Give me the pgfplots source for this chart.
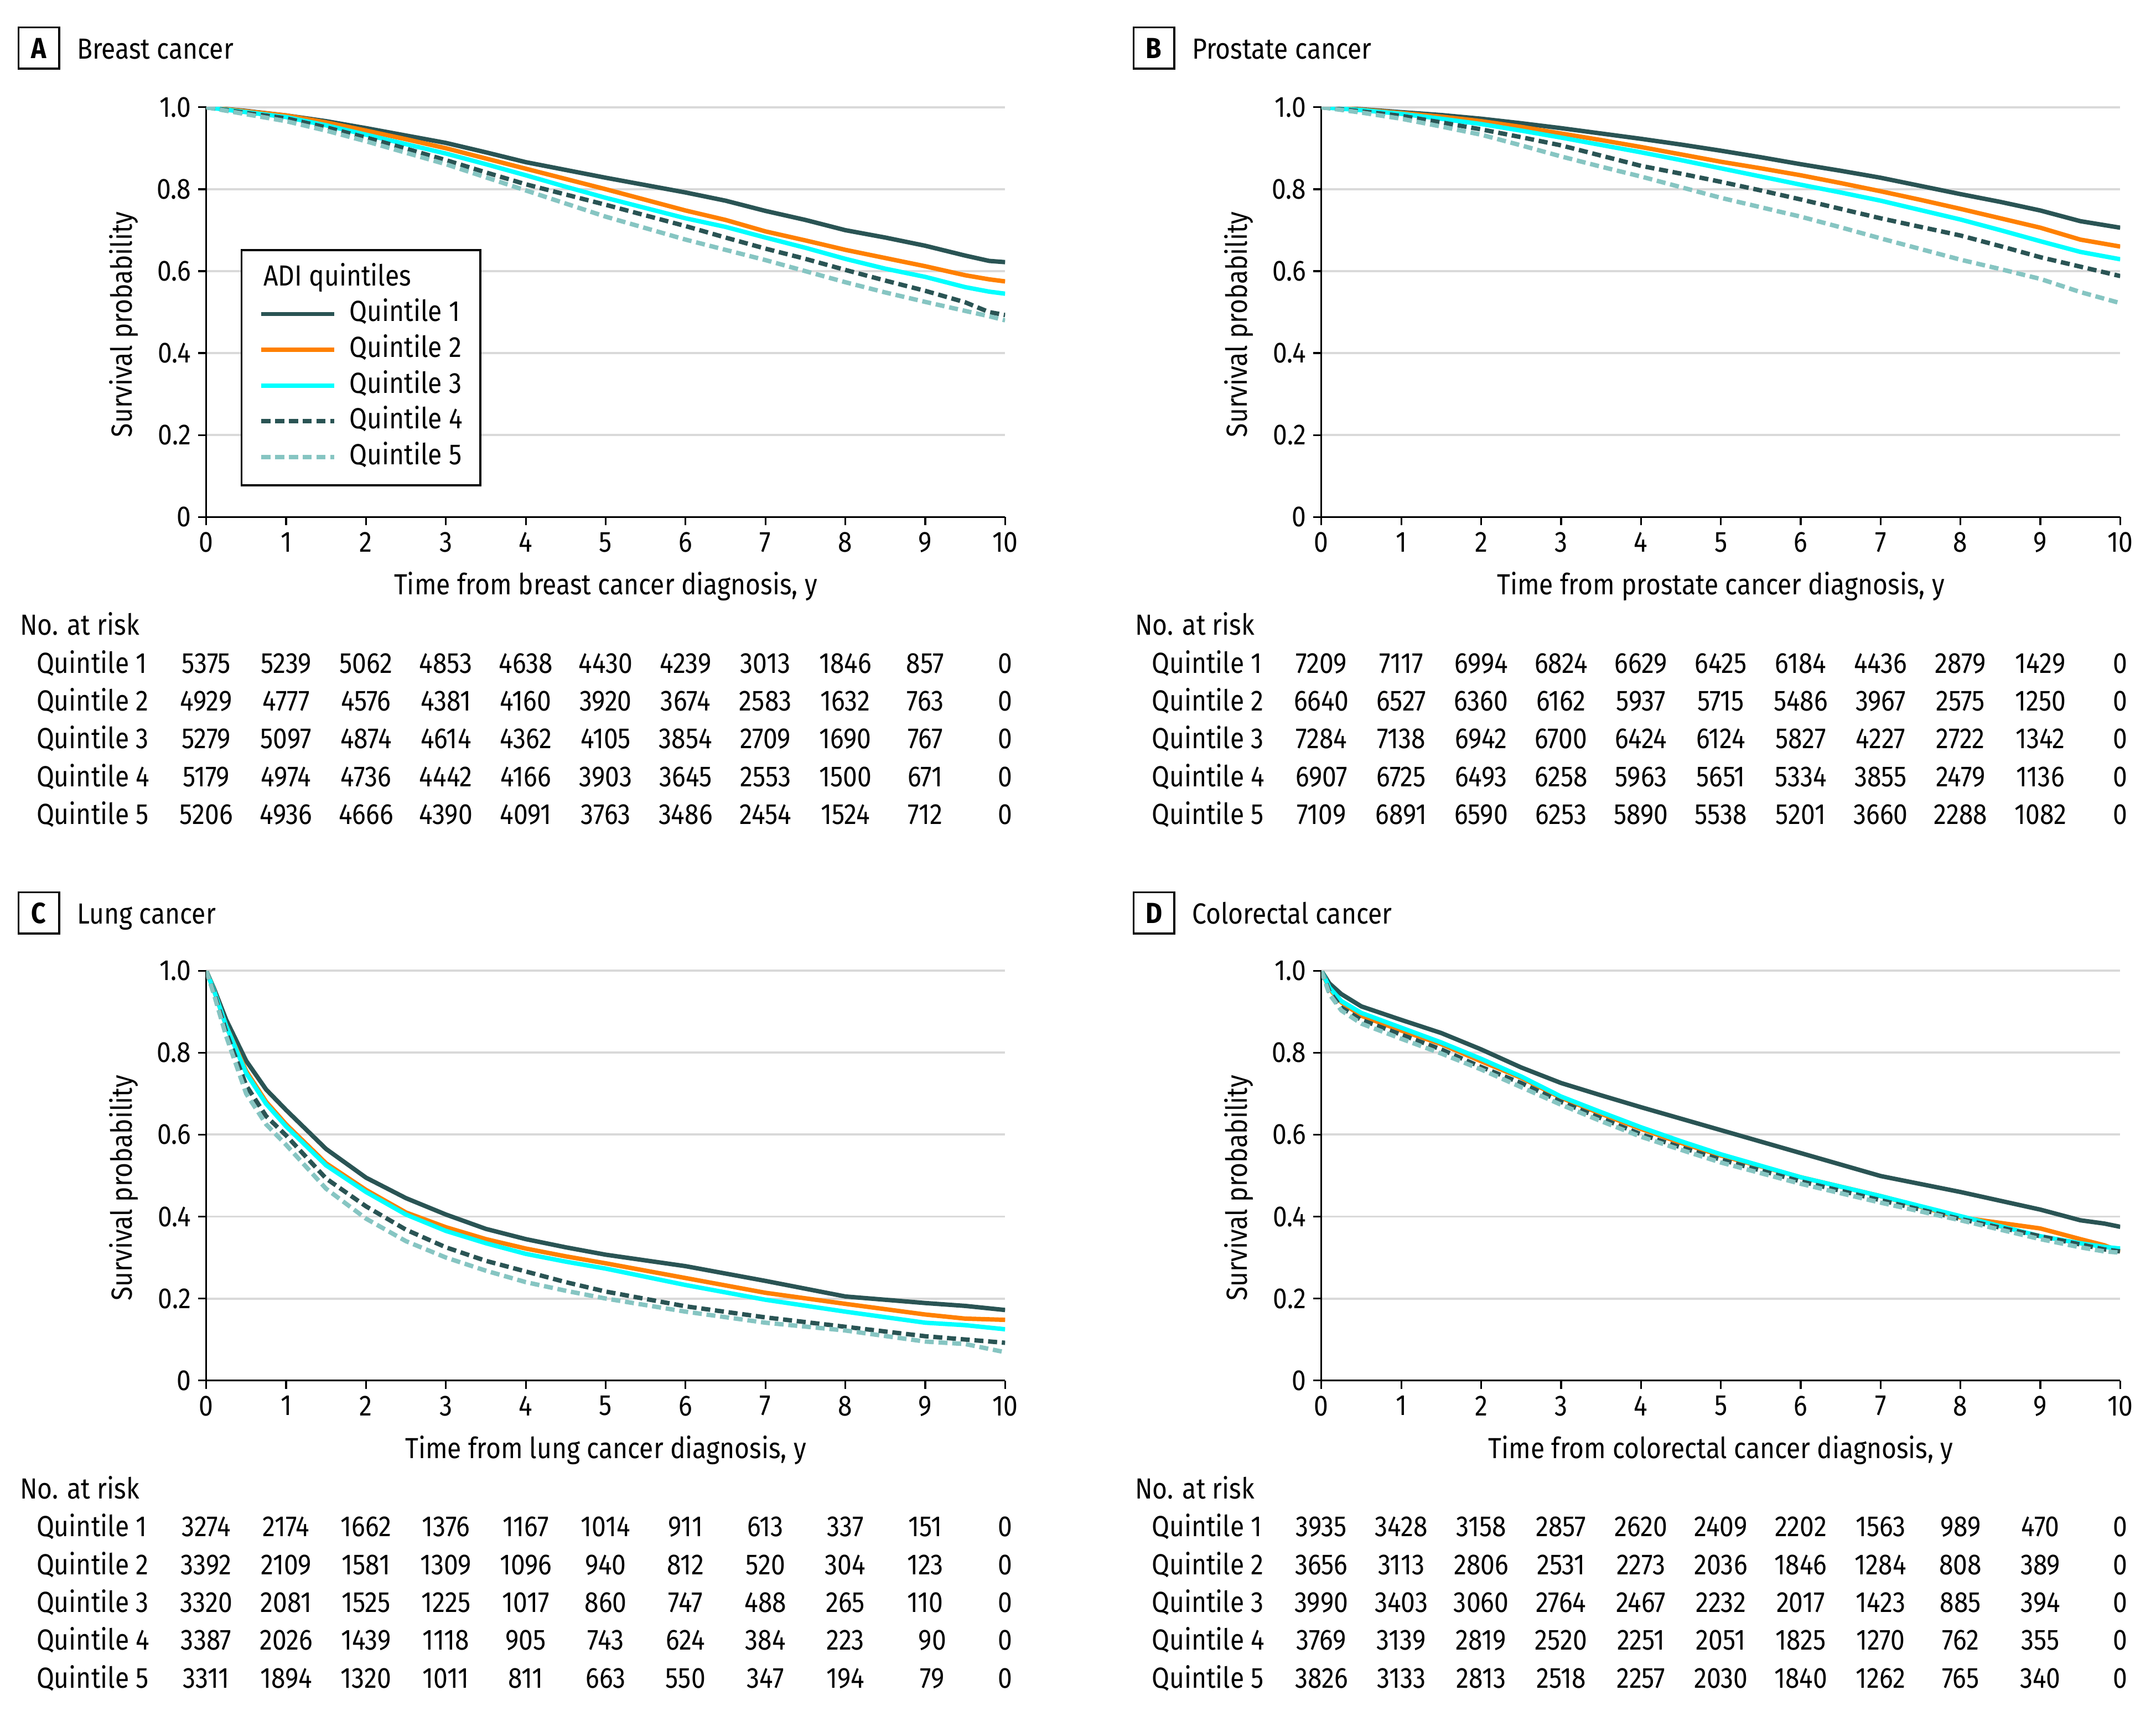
\documentclass[border=0pt]{standalone}
\usepackage{pgfplots}
\usepackage{pgfplotstable}
\pgfplotsset{compat=1.18}
\usepackage{fontspec}
\setmainfont{Fira Sans}[FakeStretch=0.88]
\definecolor{qA}{HTML}{2A5454}
\definecolor{qB}{HTML}{FF8000}
\definecolor{qC}{HTML}{00FFFF}
\definecolor{qE}{HTML}{86C5C2}
\definecolor{gridc}{HTML}{D9D9D9}
\newcommand\tf{\fontsize{7.4pt}{8.9pt}\selectfont}

\pgfplotstableread{
x q1 q2 q3 q4 q5
0 1 1 1 1 1
0.5 0.991 0.990 0.988 0.986 0.983
1 0.980 0.980 0.976 0.973 0.966
1.5 0.966 0.963 0.956 0.951 0.943
2 0.949 0.943 0.933 0.926 0.917
2.5 0.931 0.922 0.910 0.899 0.889
3 0.913 0.900 0.887 0.871 0.861
3.5 0.890 0.875 0.861 0.841 0.829
4 0.866 0.850 0.834 0.812 0.797
4.5 0.847 0.825 0.806 0.787 0.765
5 0.828 0.800 0.779 0.762 0.733
5.5 0.810 0.774 0.754 0.736 0.705
6 0.792 0.748 0.729 0.710 0.677
6.5 0.772 0.725 0.708 0.682 0.652
7 0.747 0.697 0.682 0.655 0.627
7.5 0.725 0.675 0.657 0.630 0.600
8 0.700 0.652 0.630 0.603 0.573
8.5 0.682 0.632 0.606 0.577 0.548
9 0.662 0.612 0.586 0.552 0.525
9.5 0.638 0.590 0.561 0.524 0.503
9.8 0.625 0.580 0.550 0.500 0.490
10 0.622 0.575 0.545 0.493 0.480
}\tA
\pgfplotstableread{
x q1 q2 q3 q4 q5
0 1 1 1 1 1
0.5 0.995 0.994 0.993 0.990 0.987
1 0.988 0.986 0.984 0.979 0.972
1.5 0.981 0.977 0.972 0.963 0.953
2 0.972 0.966 0.959 0.946 0.933
2.5 0.961 0.952 0.943 0.927 0.907
3 0.949 0.936 0.926 0.907 0.880
3.5 0.936 0.920 0.908 0.882 0.855
4 0.923 0.903 0.890 0.857 0.831
4.5 0.909 0.885 0.871 0.838 0.805
5 0.894 0.867 0.851 0.818 0.779
5.5 0.878 0.851 0.831 0.797 0.756
6 0.861 0.834 0.811 0.775 0.733
6.5 0.845 0.815 0.792 0.752 0.707
7 0.828 0.795 0.772 0.729 0.680
7.5 0.808 0.774 0.749 0.708 0.654
8 0.788 0.752 0.726 0.687 0.628
8.5 0.769 0.729 0.700 0.661 0.605
9 0.748 0.706 0.673 0.634 0.581
9.5 0.722 0.677 0.647 0.611 0.549
10 0.706 0.660 0.629 0.588 0.522
}\tB
\pgfplotstableread{
x q1 q2 q3 q4 q5
0 1 1 1 1 1
0.1 0.955 0.950 0.950 0.945 0.940
0.25 0.880 0.865 0.865 0.850 0.840
0.5 0.780 0.755 0.750 0.720 0.700
0.75 0.710 0.680 0.675 0.645 0.625
1 0.660 0.625 0.620 0.598 0.575
1.5 0.565 0.530 0.525 0.493 0.468
2 0.495 0.465 0.460 0.425 0.395
2.5 0.445 0.410 0.405 0.368 0.340
3 0.405 0.374 0.365 0.325 0.300
3.5 0.370 0.345 0.335 0.292 0.268
4 0.345 0.322 0.309 0.266 0.240
4.5 0.325 0.303 0.290 0.240 0.219
5 0.307 0.286 0.273 0.217 0.200
6 0.279 0.250 0.233 0.181 0.168
7 0.243 0.214 0.197 0.154 0.141
8 0.205 0.187 0.168 0.131 0.122
9 0.189 0.161 0.141 0.108 0.095
9.5 0.182 0.151 0.135 0.100 0.089
10 0.172 0.148 0.125 0.092 0.069
}\tC
\pgfplotstableread{
x q1 q2 q3 q4 q5
0 1 1 1 1 1
0.1 0.969 0.956 0.959 0.949 0.943
0.25 0.943 0.923 0.926 0.910 0.903
0.5 0.913 0.890 0.897 0.880 0.871
1 0.880 0.854 0.861 0.844 0.834
1.5 0.848 0.821 0.825 0.808 0.798
2 0.808 0.779 0.785 0.765 0.759
2.5 0.764 0.739 0.742 0.726 0.716
3 0.726 0.690 0.693 0.680 0.673
3.5 0.696 0.651 0.655 0.640 0.633
4 0.667 0.614 0.618 0.601 0.595
4.5 0.639 0.580 0.584 0.569 0.563
5 0.611 0.549 0.552 0.539 0.532
6 0.555 0.496 0.496 0.486 0.480
7 0.499 0.450 0.450 0.440 0.434
8 0.460 0.398 0.401 0.394 0.391
9 0.417 0.371 0.352 0.352 0.345
9.5 0.391 0.345 0.335 0.332 0.325
9.8 0.383 0.330 0.326 0.320 0.315
10 0.375 0.315 0.322 0.315 0.312
}\tD

\pgfplotsset{
  kmstyle/.style={
    scale only axis, width=203.35pt, height=104.3pt,
    anchor=south west,
    xmin=0, xmax=10, ymin=0, ymax=1,
    xtick={0,1,2,3,4,5,6,7,8,9,10},
    ytick={0,0.2,0.4,0.6,0.8,1},
    yticklabels={0,0.2,0.4,0.6,0.8,1.0},
    axis x line*=bottom, axis y line*=left,
    axis line style={-, line width=0.45pt, black},
    tick pos=left,
    tick align=outside, major tick length=2.1pt,
    tick style={black, line width=0.45pt},
    ymajorgrids, grid style={gridc, line width=0.56pt},
    /pgf/number format/assume math mode=true,
    tick label style={font=\tf, inner sep=1.6pt},
    label style={font=\tf},
    ylabel={Survival probability},
    every axis y label/.style={at={(axis description cs:-0.1033,0.47)}, rotate=90, anchor=center},
    every axis x label/.style={at={(axis description cs:0.5,-0.19)}, anchor=base},
  },
  q1/.style={qA, line width=1.12pt},
  q2/.style={qB, line width=1.12pt},
  q3/.style={qC, line width=1.12pt},
  q4/.style={qA, line width=1.12pt, dash pattern=on 2.3pt off 1.2pt},
  q5/.style={qE, line width=1.12pt, dash pattern=on 2.3pt off 1.2pt},
}

\newcommand\riskrow[3]{%
  \foreach \v [count=\i from 0] in {#3}{\node[anchor=base, inner sep=0pt] at (150+#1+58.1*\i, #2) {\v};}}
\newcommand\risklabels[2]{%
  \node[anchor=base west, inner sep=0pt] at (14+#1, 462+#2) {No. at risk};
  \foreach \k in {1,...,5}{\node[anchor=base west, inner sep=0pt] at (26+#1, 462+#2+27.5*\k) {Quintile \k};}}
\newcommand\paneltitle[4]{%
  \draw[line width=0.5pt] (13.4+#1, 20+#2) rectangle (43+#1, 50+#2);
  \node[inner sep=0pt] at (28.2+#1, 35+#2) {\bfseries #3};
  \node[anchor=base west, inner sep=0pt] at (55.5+#1, 42.7+#2) {#4};}

\begin{document}
\begin{tikzpicture}[font=\tf]
\path (0pt,0pt) rectangle (548.8pt,-436.8pt);

% Panel A
\begin{axis}[kmstyle, at={(52.5pt,-131.6pt)},
  xlabel={Time from breast cancer diagnosis, y},
  legend style={at={(axis description cs:0.043,0.654)}, anchor=north west, draw=black, line width=0.5pt,
    font=\tf, inner xsep=4.5pt, inner ysep=3.8pt, row sep=2.3pt,
    nodes={inner sep=0pt, text height=5.3pt, text depth=1.5pt},
    /tikz/every odd column/.append style={column sep=3.4pt}},
  legend cell align=left,
  legend image code/.code={\draw[#1] (0pt,0pt) -- (18.5pt,0pt);},
]
\addlegendimage{empty legend}\addlegendentry{\hspace*{-21.9pt}ADI quintiles}
\addplot[q1] table[x=x,y=q1]{\tA};\addlegendentry{Quintile 1}
\addplot[q2] table[x=x,y=q2]{\tA};\addlegendentry{Quintile 2}
\addplot[q3] table[x=x,y=q3]{\tA};\addlegendentry{Quintile 3}
\addplot[q4] table[x=x,y=q4]{\tA};\addlegendentry{Quintile 4}
\addplot[q5] table[x=x,y=q5]{\tA};\addlegendentry{Quintile 5}
\end{axis}

% Panel B
\begin{axis}[kmstyle, at={(336.35pt,-131.6pt)},
  xlabel={Time from prostate cancer diagnosis, y}]
\addplot[q1] table[x=x,y=q1]{\tB};
\addplot[q2] table[x=x,y=q2]{\tB};
\addplot[q3] table[x=x,y=q3]{\tB};
\addplot[q4] table[x=x,y=q4]{\tB};
\addplot[q5] table[x=x,y=q5]{\tB};
\end{axis}

% Panel C
\begin{axis}[kmstyle, at={(52.5pt,-351.4pt)},
  xlabel={Time from lung cancer diagnosis, y}]
\addplot[q1] table[x=x,y=q1]{\tC};
\addplot[q2] table[x=x,y=q2]{\tC};
\addplot[q3] table[x=x,y=q3]{\tC};
\addplot[q4] table[x=x,y=q4]{\tC};
\addplot[q5] table[x=x,y=q5]{\tC};
\end{axis}

% Panel D
\begin{axis}[kmstyle, at={(336.35pt,-351.4pt)},
  xlabel={Time from colorectal cancer diagnosis, y}]
\addplot[q1] table[x=x,y=q1]{\tD};
\addplot[q2] table[x=x,y=q2]{\tD};
\addplot[q3] table[x=x,y=q3]{\tD};
\addplot[q4] table[x=x,y=q4]{\tD};
\addplot[q5] table[x=x,y=q5]{\tD};
\end{axis}

\begin{scope}[x=0.35pt, y=-0.35pt]
\paneltitle{0}{0}{A}{Breast cancer}
\paneltitle{811}{0}{B}{Prostate cancer}
\paneltitle{0}{629}{C}{Lung cancer}
\paneltitle{811}{629}{D}{Colorectal cancer}

\risklabels{0}{0}
\riskrow{0}{489.5}{5375,5239,5062,4853,4638,4430,4239,3013,1846,857,0}
\riskrow{0}{517}{4929,4777,4576,4381,4160,3920,3674,2583,1632,763,0}
\riskrow{0}{544.5}{5279,5097,4874,4614,4362,4105,3854,2709,1690,767,0}
\riskrow{0}{572}{5179,4974,4736,4442,4166,3903,3645,2553,1500,671,0}
\riskrow{0}{599.5}{5206,4936,4666,4390,4091,3763,3486,2454,1524,712,0}

\risklabels{811}{0}
\riskrow{811}{489.5}{7209,7117,6994,6824,6629,6425,6184,4436,2879,1429,0}
\riskrow{811}{517}{6640,6527,6360,6162,5937,5715,5486,3967,2575,1250,0}
\riskrow{811}{544.5}{7284,7138,6942,6700,6424,6124,5827,4227,2722,1342,0}
\riskrow{811}{572}{6907,6725,6493,6258,5963,5651,5334,3855,2479,1136,0}
\riskrow{811}{599.5}{7109,6891,6590,6253,5890,5538,5201,3660,2288,1082,0}

\risklabels{0}{628}
\riskrow{0}{1117.5}{3274,2174,1662,1376,1167,1014,911,613,337,151,0}
\riskrow{0}{1145}{3392,2109,1581,1309,1096,940,812,520,304,123,0}
\riskrow{0}{1172.5}{3320,2081,1525,1225,1017,860,747,488,265,110,0}
\riskrow{0}{1200}{3387,2026,1439,1118,905,743,624,384,223,{\phantom{0}90},0}
\riskrow{0}{1227.5}{3311,1894,1320,1011,811,663,550,347,194,{\phantom{0}79},0}

\risklabels{811}{628}
\riskrow{811}{1117.5}{3935,3428,3158,2857,2620,2409,2202,1563,989,470,0}
\riskrow{811}{1145}{3656,3113,2806,2531,2273,2036,1846,1284,808,389,0}
\riskrow{811}{1172.5}{3990,3403,3060,2764,2467,2232,2017,1423,885,394,0}
\riskrow{811}{1200}{3769,3139,2819,2520,2251,2051,1825,1270,762,355,0}
\riskrow{811}{1227.5}{3826,3133,2813,2518,2257,2030,1840,1262,765,340,0}
\end{scope}
\end{tikzpicture}
\end{document}
